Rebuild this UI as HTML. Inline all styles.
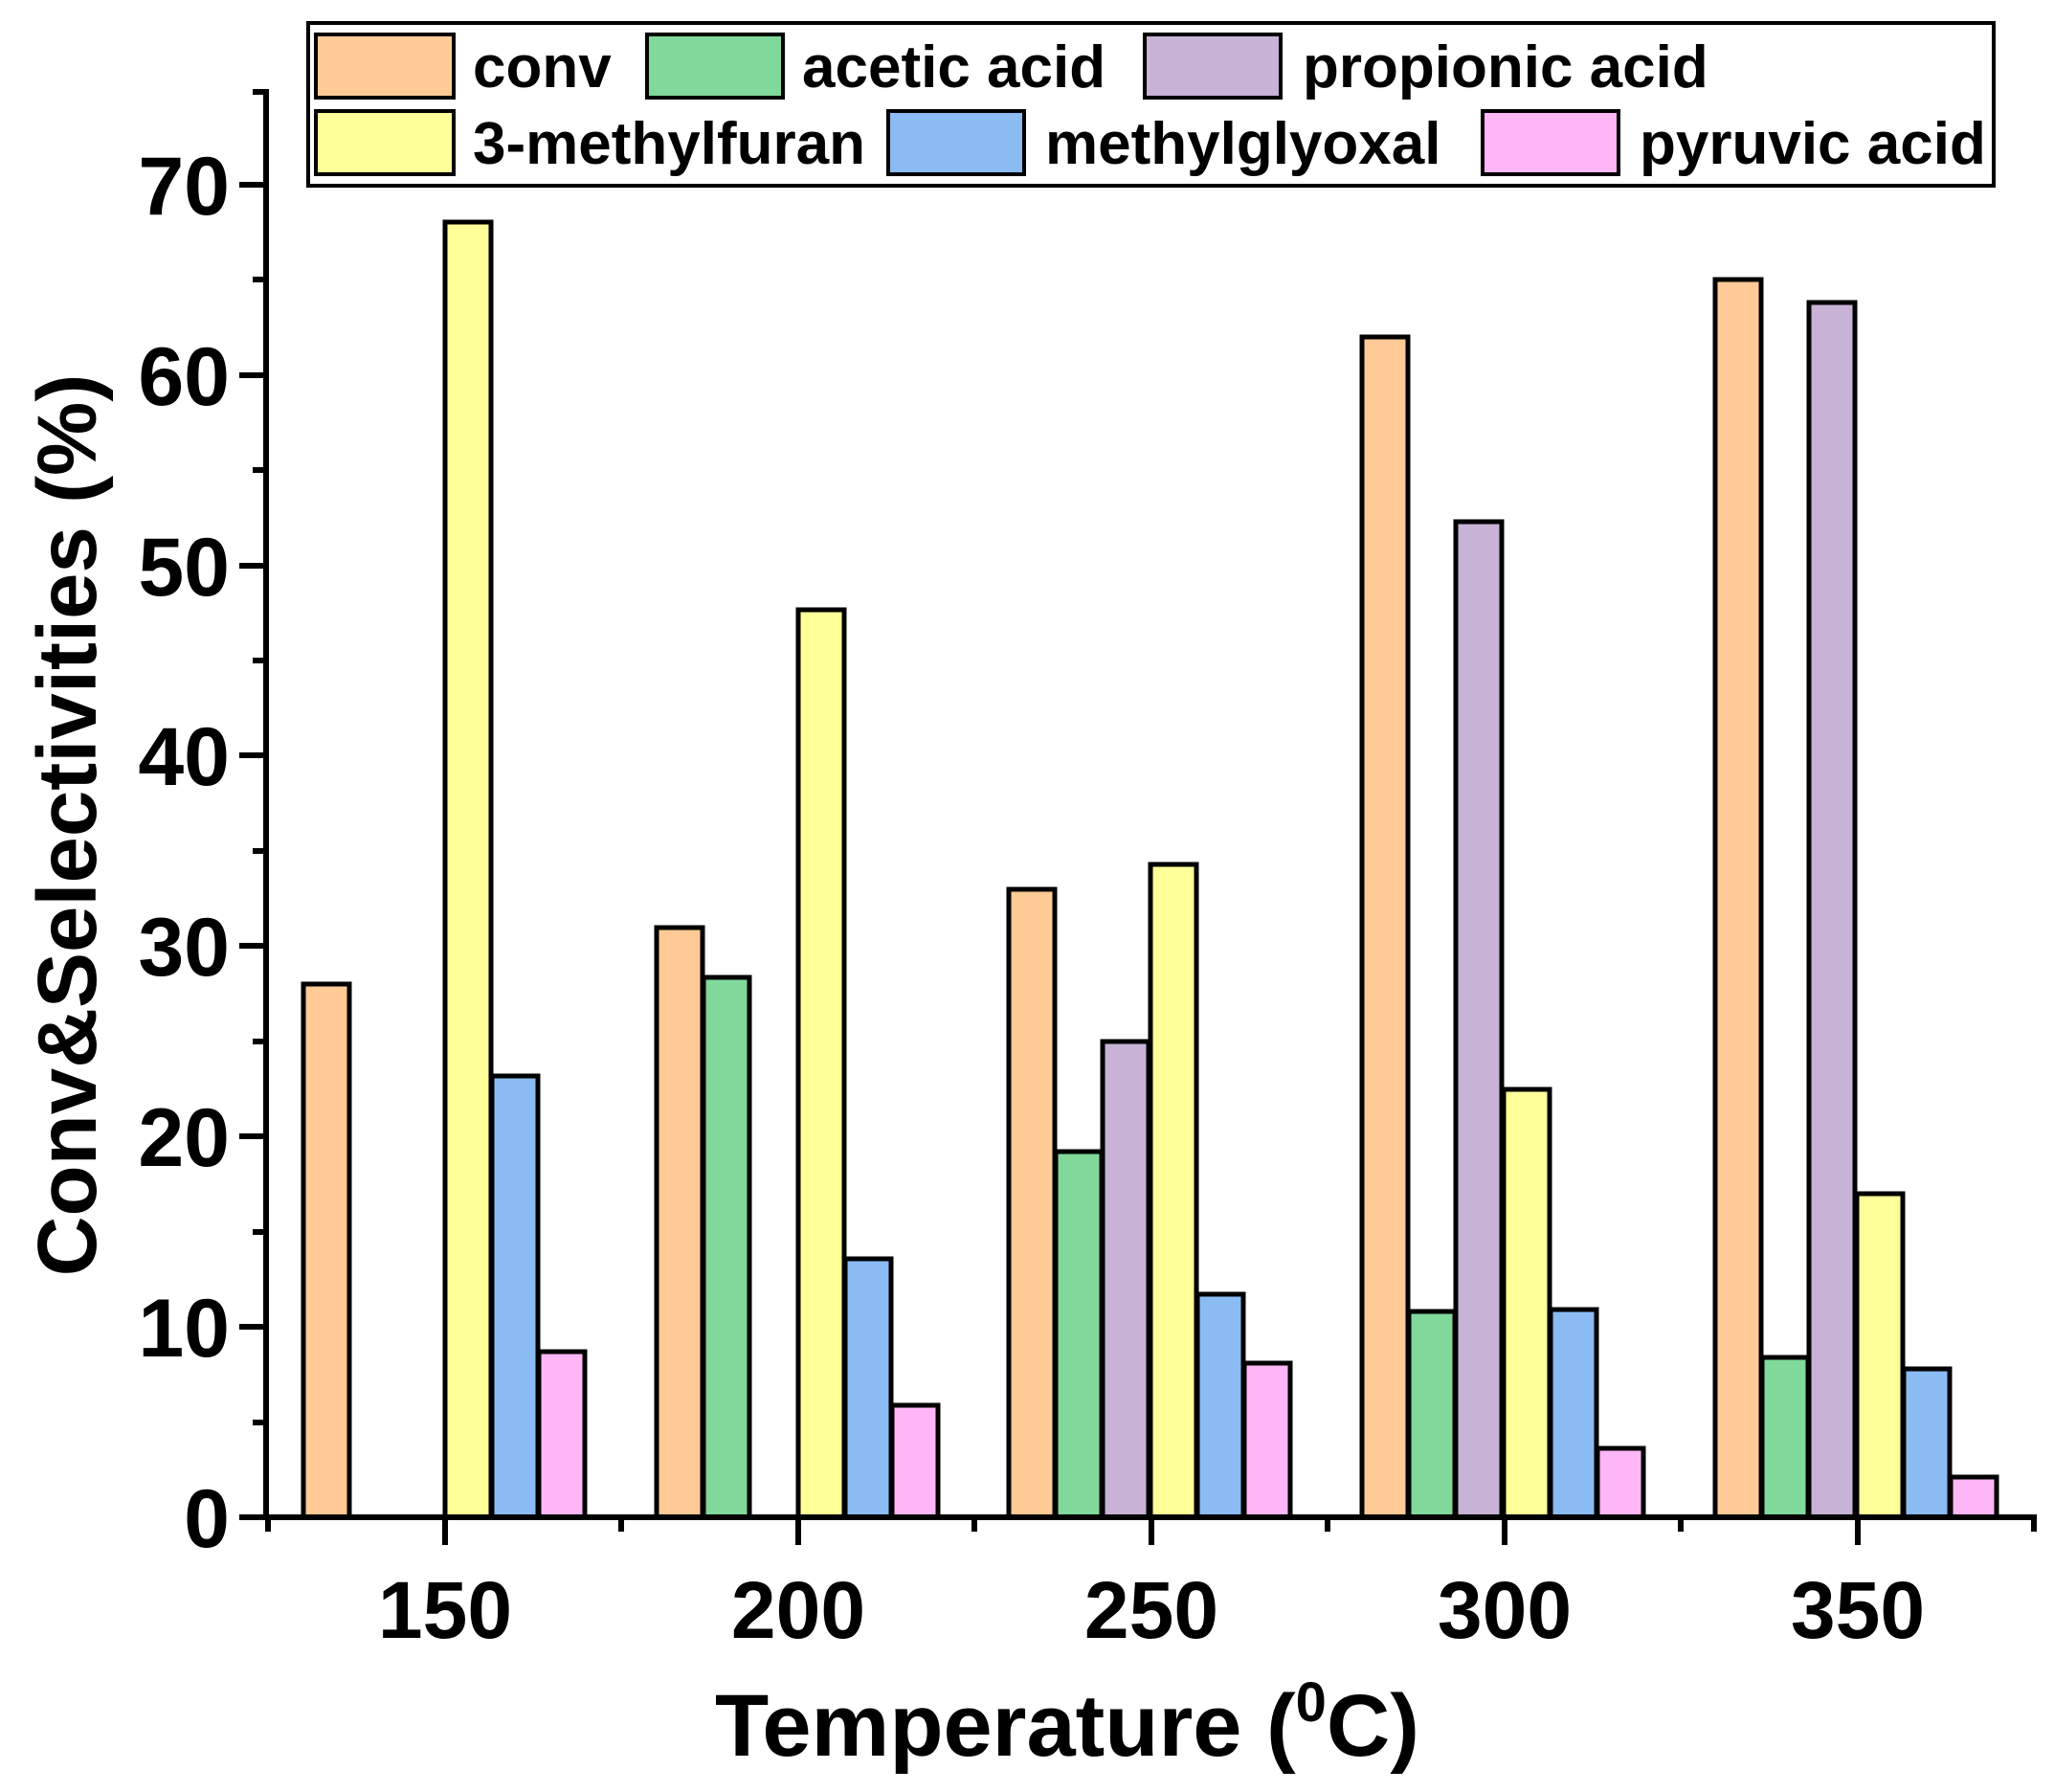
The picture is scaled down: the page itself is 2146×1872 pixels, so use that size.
<!DOCTYPE html>
<html><head><style>html,body{margin:0;padding:0;background:#fff}svg{display:block}</style></head>
<body>
<svg xmlns="http://www.w3.org/2000/svg" width="2146" height="1872" viewBox="0 0 2146 1872" font-family="Liberation Sans, Arial, sans-serif" font-weight="bold">
<rect width="2146" height="1872" fill="#fff"/>
<g stroke="#000" stroke-width="5">
<rect x="317" y="1028" width="48" height="557" fill="#FFCA96"/>
<rect x="465" y="232" width="48" height="1353" fill="#FFFF99"/>
<rect x="514" y="1124" width="48" height="461" fill="#8BBBF3"/>
<rect x="563" y="1412" width="48" height="173" fill="#FFB6F6"/>
<rect x="686" y="969" width="48" height="616" fill="#FFCA96"/>
<rect x="735" y="1021" width="48" height="564" fill="#80D99A"/>
<rect x="834" y="637" width="48" height="948" fill="#FFFF99"/>
<rect x="883" y="1315" width="48" height="270" fill="#8BBBF3"/>
<rect x="932" y="1468" width="48" height="117" fill="#FFB6F6"/>
<rect x="1054" y="929" width="48" height="656" fill="#FFCA96"/>
<rect x="1103" y="1203" width="48" height="382" fill="#80D99A"/>
<rect x="1152" y="1088" width="48" height="497" fill="#C8B2D6"/>
<rect x="1202" y="903" width="48" height="682" fill="#FFFF99"/>
<rect x="1251" y="1352" width="48" height="233" fill="#8BBBF3"/>
<rect x="1300" y="1424" width="48" height="161" fill="#FFB6F6"/>
<rect x="1423" y="352" width="48" height="1233" fill="#FFCA96"/>
<rect x="1472" y="1370" width="48" height="215" fill="#80D99A"/>
<rect x="1521" y="545" width="48" height="1040" fill="#C8B2D6"/>
<rect x="1571" y="1138" width="48" height="447" fill="#FFFF99"/>
<rect x="1620" y="1368" width="48" height="217" fill="#8BBBF3"/>
<rect x="1669" y="1513" width="48" height="72" fill="#FFB6F6"/>
<rect x="1792" y="292" width="48" height="1293" fill="#FFCA96"/>
<rect x="1841" y="1418" width="48" height="167" fill="#80D99A"/>
<rect x="1890" y="316" width="48" height="1269" fill="#C8B2D6"/>
<rect x="1940" y="1247" width="48" height="338" fill="#FFFF99"/>
<rect x="1989" y="1430" width="48" height="155" fill="#8BBBF3"/>
<rect x="2038" y="1543" width="48" height="42" fill="#FFB6F6"/>
</g>
<g stroke="#000" stroke-width="6" fill="none">
<line x1="278" y1="93" x2="278" y2="1588"/>
<line x1="250" y1="1585" x2="2128" y2="1585"/>
<line x1="250" y1="1585" x2="278" y2="1585"/><line x1="250" y1="1386" x2="278" y2="1386"/><line x1="250" y1="1187" x2="278" y2="1187"/><line x1="250" y1="988" x2="278" y2="988"/><line x1="250" y1="789" x2="278" y2="789"/><line x1="250" y1="591" x2="278" y2="591"/><line x1="250" y1="392" x2="278" y2="392"/><line x1="250" y1="193" x2="278" y2="193"/>
<line x1="264" y1="1486" x2="278" y2="1486"/><line x1="264" y1="1287" x2="278" y2="1287"/><line x1="264" y1="1088" x2="278" y2="1088"/><line x1="264" y1="889" x2="278" y2="889"/><line x1="264" y1="690" x2="278" y2="690"/><line x1="264" y1="491" x2="278" y2="491"/><line x1="264" y1="292" x2="278" y2="292"/><line x1="264" y1="96" x2="278" y2="96"/>
<line x1="465" y1="1585" x2="465" y2="1614"/><line x1="834" y1="1585" x2="834" y2="1614"/><line x1="1203" y1="1585" x2="1203" y2="1614"/><line x1="1572" y1="1585" x2="1572" y2="1614"/><line x1="1941" y1="1585" x2="1941" y2="1614"/>
<line x1="280" y1="1585" x2="280" y2="1600"/><line x1="649" y1="1585" x2="649" y2="1600"/><line x1="1018" y1="1585" x2="1018" y2="1600"/><line x1="1387" y1="1585" x2="1387" y2="1600"/><line x1="1756" y1="1585" x2="1756" y2="1600"/><line x1="2125" y1="1585" x2="2125" y2="1600"/>
</g>
<g font-size="86" text-anchor="end">
<text x="240" y="1616">0</text><text x="240" y="1417">10</text><text x="240" y="1218">20</text><text x="240" y="1019">30</text><text x="240" y="820">40</text><text x="240" y="622">50</text><text x="240" y="423">60</text><text x="240" y="224">70</text>
</g>
<g font-size="84" text-anchor="middle">
<text x="465" y="1711">150</text><text x="834" y="1711">200</text><text x="1203" y="1711">250</text><text x="1572" y="1711">300</text><text x="1941" y="1711">350</text>
</g>
<text x="1115" y="1834" font-size="92" text-anchor="middle">Temperature (<tspan font-size="58" dy="-36">0</tspan><tspan dy="36">C)</tspan></text>
<text transform="translate(100,862) rotate(-90)" font-size="87" text-anchor="middle">Conv&amp;Selectivities (%)</text>
<rect x="322" y="24" width="1761" height="170" fill="#fff" stroke="#000" stroke-width="4"/>
<g stroke="#000" stroke-width="4">
<rect x="330" y="36" width="144" height="66" fill="#FFCA96"/>
<rect x="676" y="36" width="142" height="66" fill="#80D99A"/>
<rect x="1196" y="36" width="142" height="66" fill="#C8B2D6"/>
<rect x="330" y="116" width="144" height="66" fill="#FFFF99"/>
<rect x="928" y="116" width="142" height="66" fill="#8BBBF3"/>
<rect x="1549" y="116" width="142" height="66" fill="#FFB6F6"/>
</g>
<g font-size="62">
<text x="494" y="91">conv</text>
<text x="838" y="91">acetic acid</text>
<text x="1361" y="91">propionic acid</text>
<text x="494" y="171">3-methylfuran</text>
<text x="1092" y="171">methylglyoxal</text>
<text x="1713" y="171">pyruvic acid</text>
</g>
</svg>
</body></html>
